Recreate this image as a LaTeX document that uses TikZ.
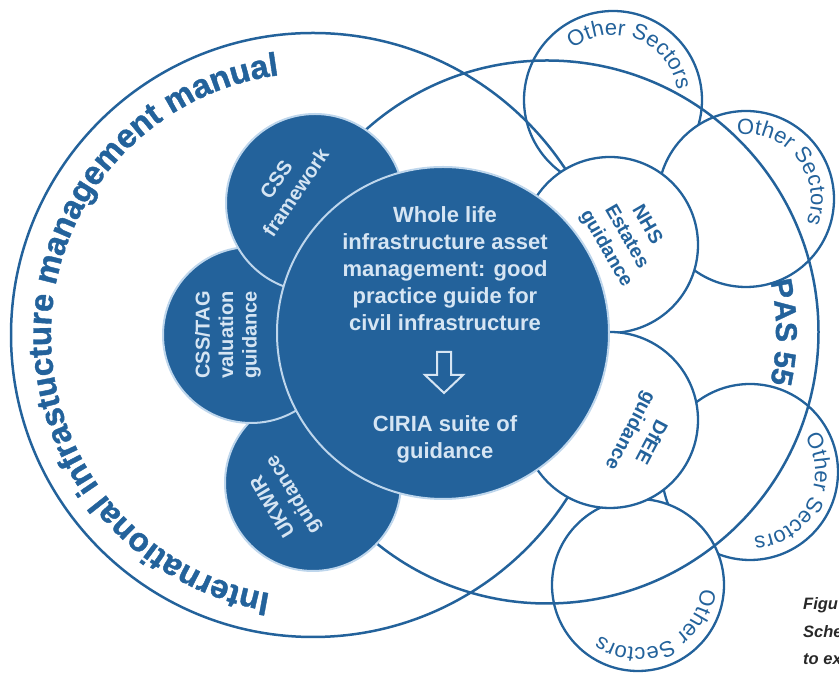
\documentclass[tikz,border=0pt]{standalone}
\usepackage{fontspec}
\setmainfont{Liberation Sans}
\newfontfamily\heavyfont[BoldFeatures={FakeBold=1.2}]{Liberation Sans}
\usetikzlibrary{decorations.text}
\definecolor{cblue}{RGB}{35,98,155}
\definecolor{clight}{RGB}{214,229,243}
\definecolor{cedge}{RGB}{190,214,236}
\definecolor{ccap}{RGB}{40,40,40}
\begin{document}
\begin{tikzpicture}[x=1pt,y=1pt,
  sector/.style={circle, draw=cblue, line width=2.3pt, fill=white, inner sep=0pt, outer sep=0pt},
  whitec/.style={circle, draw=cblue, line width=2.3pt, fill=white, inner sep=0pt, outer sep=0pt},
  bluec/.style={circle, draw=cedge, line width=2pt, fill=cblue, inner sep=0pt, outer sep=0pt},
  ring/.style={circle, draw=cblue, line width=2.5pt, inner sep=0pt, outer sep=0pt},
  intext/.style={text=clight, font=\bfseries\fontsize{20}{23.5}\selectfont, align=center, inner sep=0pt},
  bltext/.style={text=cblue, font=\bfseries\fontsize{19.5}{23.5}\selectfont, align=center, inner sep=0pt},
  maintext/.style={text=clight, font=\bfseries\fontsize{22}{27}\selectfont, inner sep=0pt, anchor=base},
  captext/.style={text=ccap, font=\bfseries\itshape\fontsize{16.5}{16.5}\selectfont, inner sep=0pt, anchor=base west},
  ostext/.style={decorate, decoration={text along path, text align=center, text color=cblue,
      text={|\fontsize{22}{22}\selectfont|Other Sectors}}}
]
\useasboundingbox (0,0) rectangle (839,674);

% Other sectors circles
\node[sector, minimum size=178] (os1) at (613,574) {};
\node[sector, minimum size=176] (os2) at (746,475) {};
\node[sector, minimum size=176] (os3) at (750,202) {};
\node[sector, minimum size=172] (os4) at (638,89) {};

% big rings
\node[ring, minimum size=604] (iimm) at (313,339) {};
\node[ring, minimum size=543] (pas) at (547,342) {};

% NHS and DfEE
\node[whitec, minimum size=176] (nhs) at (610,429) {};
\node[whitec, minimum size=176] (dfee) at (610,254) {};

% blue circles
\node[bluec, minimum size=176] (ukwir) at (313,191) {};
\node[bluec, minimum size=176] (csstag) at (251,339) {};
\node[bluec, minimum size=178] (css) at (315,471) {};
\node[bluec, minimum size=332] (main) at (443,341) {};

% texts in blue circles
\node[intext, rotate=56] (tcss) at (286,488) {CSS\\framework};
\node[intext, rotate=90] (tcsstag) at (228,339) {CSS/TAG\\valuation\\guidance};
\node[intext, rotate=121] (tukwir) at (284,174) {UKWIR\\guidance};

% main text
\node[maintext] (w1) at (445,451) {Whole life};
\node[maintext] (w2) at (445,424) {infrastructure asset};
\node[maintext] (w3) at (445,397) {management: good};
\node[maintext] (w4) at (445,370) {practice guide for};
\node[maintext] (w5) at (445,343) {civil infrastructure};
\draw[clight, line width=2pt, line join=miter]
  (437,322) -- (451,322) -- (451,299) -- (463,299) -- (444,281) -- (425,299) -- (437,299) -- cycle;
\node[maintext] (c1) at (445,242) {CIRIA suite of};
\node[maintext] (c2) at (445,215) {guidance};

% NHS, DfEE texts
\node[bltext, rotate=-60] (tnhs) at (626,437) {NHS\\Estates\\guidance};
\node[bltext, rotate=-118] (tdfee) at (640,238) {DfEE\\guidance};

% curved texts
\path[decorate, decoration={text along path, text align=center, text color=cblue,
  text={|\heavyfont\bfseries\fontsize{33}{33}\selectfont|International infrastucture management manual}}]
  ([shift={(-85:262)}]iimm.center) arc[start angle=-85, end angle=-277, radius=262];
\path[decorate, decoration={text along path, text align=center, text color=cblue,
  text={|\heavyfont\bfseries\fontsize{30}{30}\selectfont|PAS 55}}]
  ([shift={(60:229)}]pas.center) arc[start angle=60, end angle=-60, radius=229];

\path[ostext] ([shift={(158.5:65)}]os1.center) arc[start angle=158.5, end angle=-21.5, radius=65];
\path[ostext] ([shift={(128:65)}]os2.center) arc[start angle=128, end angle=-52, radius=65];
\path[ostext] ([shift={(63:65)}]os3.center) arc[start angle=63, end angle=-117, radius=65];
\path[ostext] ([shift={(25:63)}]os4.center) arc[start angle=25, end angle=-155, radius=63];

% caption (cut at the page edge)
\node[captext] (cap1) at (803,64) {Figu};
\node[captext] (cap2) at (803,36) {Sche};
\node[captext] (cap3) at (803,9) {to ex};
\end{tikzpicture}
\end{document}
